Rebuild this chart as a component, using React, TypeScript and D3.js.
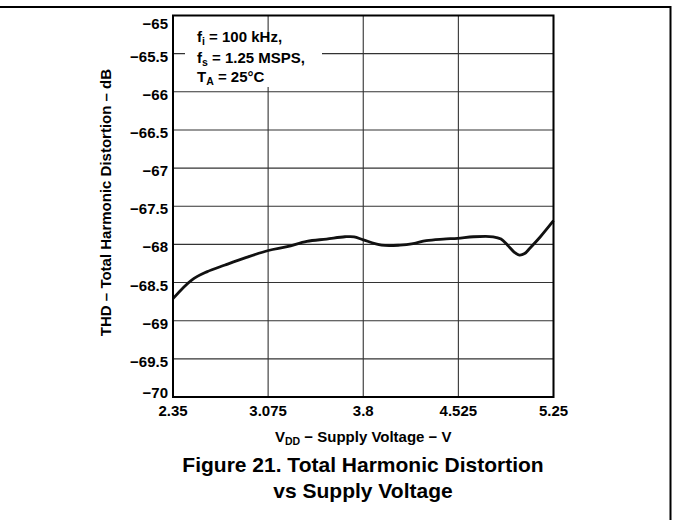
import React from "react";
import * as d3 from "d3";

const xTicks = [2.35, 3.075, 3.8, 4.525, 5.25];
const xTickLabels = ["2.35", "3.075", "3.8", "4.525", "5.25"];
const yTicks = [-65, -65.5, -66, -66.5, -67, -67.5, -68, -68.5, -69, -69.5, -70];
const yTickLabels = ["−65", "−65.5", "−66", "−66.5", "−67", "−67.5", "−68", "−68.5", "−69", "−69.5", "−70"];

const supplyV = [2.35, 2.49, 2.607, 2.747, 2.91, 3.077, 3.22, 3.37, 3.52, 3.66, 3.73, 3.8, 3.94, 4.08, 4.18, 4.28, 4.41, 4.52, 4.64, 4.79, 4.85, 4.9, 4.95, 4.99, 5.03, 5.07, 5.15, 5.25];
const thd = [-68.71, -68.47, -68.36, -68.27, -68.17, -68.08, -68.03, -67.96, -67.93, -67.9, -67.9, -67.94, -68.01, -68.01, -67.99, -67.95, -67.93, -67.92, -67.9, -67.9, -67.93, -68.01, -68.1, -68.14, -68.12, -68.05, -67.9, -67.69];

const FONT = "'Liberation Sans', Arial, Helvetica, sans-serif";

export default function App() {
  const left = 173, right = 553.5, top = 15.5, bottom = 397;
  const x = d3.scaleLinear().domain([2.35, 5.25]).range([left, right]);
  const y = d3.scaleLinear().domain([-65, -70]).range([top, bottom]);
  const line = d3
    .line<number>()
    .x((_, i) => x(supplyV[i]))
    .y((d) => y(d))
    .curve(d3.curveCatmullRom.alpha(0.5));

  return (
    <svg
      width={673}
      height={520}
      style={{ position: "absolute", left: 0, top: 0, background: "#fff" }}
      fontFamily={FONT}
      fontWeight="bold"
    >
      <rect x={0} y={0} width={673} height={520} fill="#fff" />
      {/* outer frame */}
      <line x1={0} y1={7} x2={671} y2={7} stroke="#000" strokeWidth={2} />
      <line x1={670.5} y1={6} x2={670.5} y2={520} stroke="#000" strokeWidth={2} />

      {/* grid */}
      {yTicks.map((t) => (
        <line key={"gy" + t} x1={left} x2={right} y1={y(t)} y2={y(t)} stroke="#333" strokeWidth={1.1} />
      ))}
      {xTicks.map((t) => (
        <line key={"gx" + t} x1={x(t)} x2={x(t)} y1={top} y2={bottom} stroke="#333" strokeWidth={1.1} />
      ))}

      {/* annotation box background */}
      <rect x={185} y={40} width={137} height={47} fill="#fff" />
      <g fontSize={15} fill="#000">
        <text x={197} y={42}>
          f<tspan fontSize={10.5} dy={3}>i</tspan>
          <tspan dy={-3}> = 100 kHz,</tspan>
        </text>
        <text x={197} y={63}>
          f<tspan fontSize={10.5} dy={3}>s</tspan>
          <tspan dy={-3}> = 1.25 MSPS,</tspan>
        </text>
        <text x={197} y={82}>
          T<tspan fontSize={10.5} dy={3}>A</tspan>
          <tspan dy={-3}> = 25°C</tspan>
        </text>
      </g>

      {/* curve */}
      <path d={line(thd) || ""} fill="none" stroke="#111" strokeWidth={2.8} strokeLinejoin="round" />

      {/* plot border */}
      <rect x={left} y={top} width={right - left} height={bottom - top} fill="none" stroke="#000" strokeWidth={2} />

      {/* y tick labels */}
      <g fontSize={15} textAnchor="end" fill="#000">
        {yTicks.map((t, i) => {
          let off = 2.5;
          if (i === 0) off = 7.5;
          if (i === yTicks.length - 1) off = -5;
          return (
            <text key={"yl" + t} x={168} y={y(t) + off} dominantBaseline="central">
              {yTickLabels[i]}
            </text>
          );
        })}
      </g>

      {/* x tick labels */}
      <g fontSize={15} textAnchor="middle" fill="#000">
        {xTicks.map((t, i) => (
          <text key={"xl" + t} x={x(t)} y={416}>
            {xTickLabels[i]}
          </text>
        ))}
      </g>

      {/* x axis title */}
      <text x={(left + right) / 2} y={442} fontSize={15} textAnchor="middle" fill="#000">
        V<tspan fontSize={10.5} dy={3}>DD</tspan>
        <tspan dy={-3}> − Supply Voltage − V</tspan>
      </text>

      {/* y axis title */}
      <text
        transform="translate(111,202.5) rotate(-90)"
        fontSize={15}
        textAnchor="middle"
        fill="#000"
      >
        THD – Total Harmonic Distortion – dB
      </text>

      {/* caption */}
      <text x={363} y={472} fontSize={21} textAnchor="middle" fill="#000">
        Figure 21. Total Harmonic Distortion
      </text>
      <text x={363} y={498} fontSize={21} textAnchor="middle" fill="#000">
        vs Supply Voltage
      </text>
    </svg>
  );
}
